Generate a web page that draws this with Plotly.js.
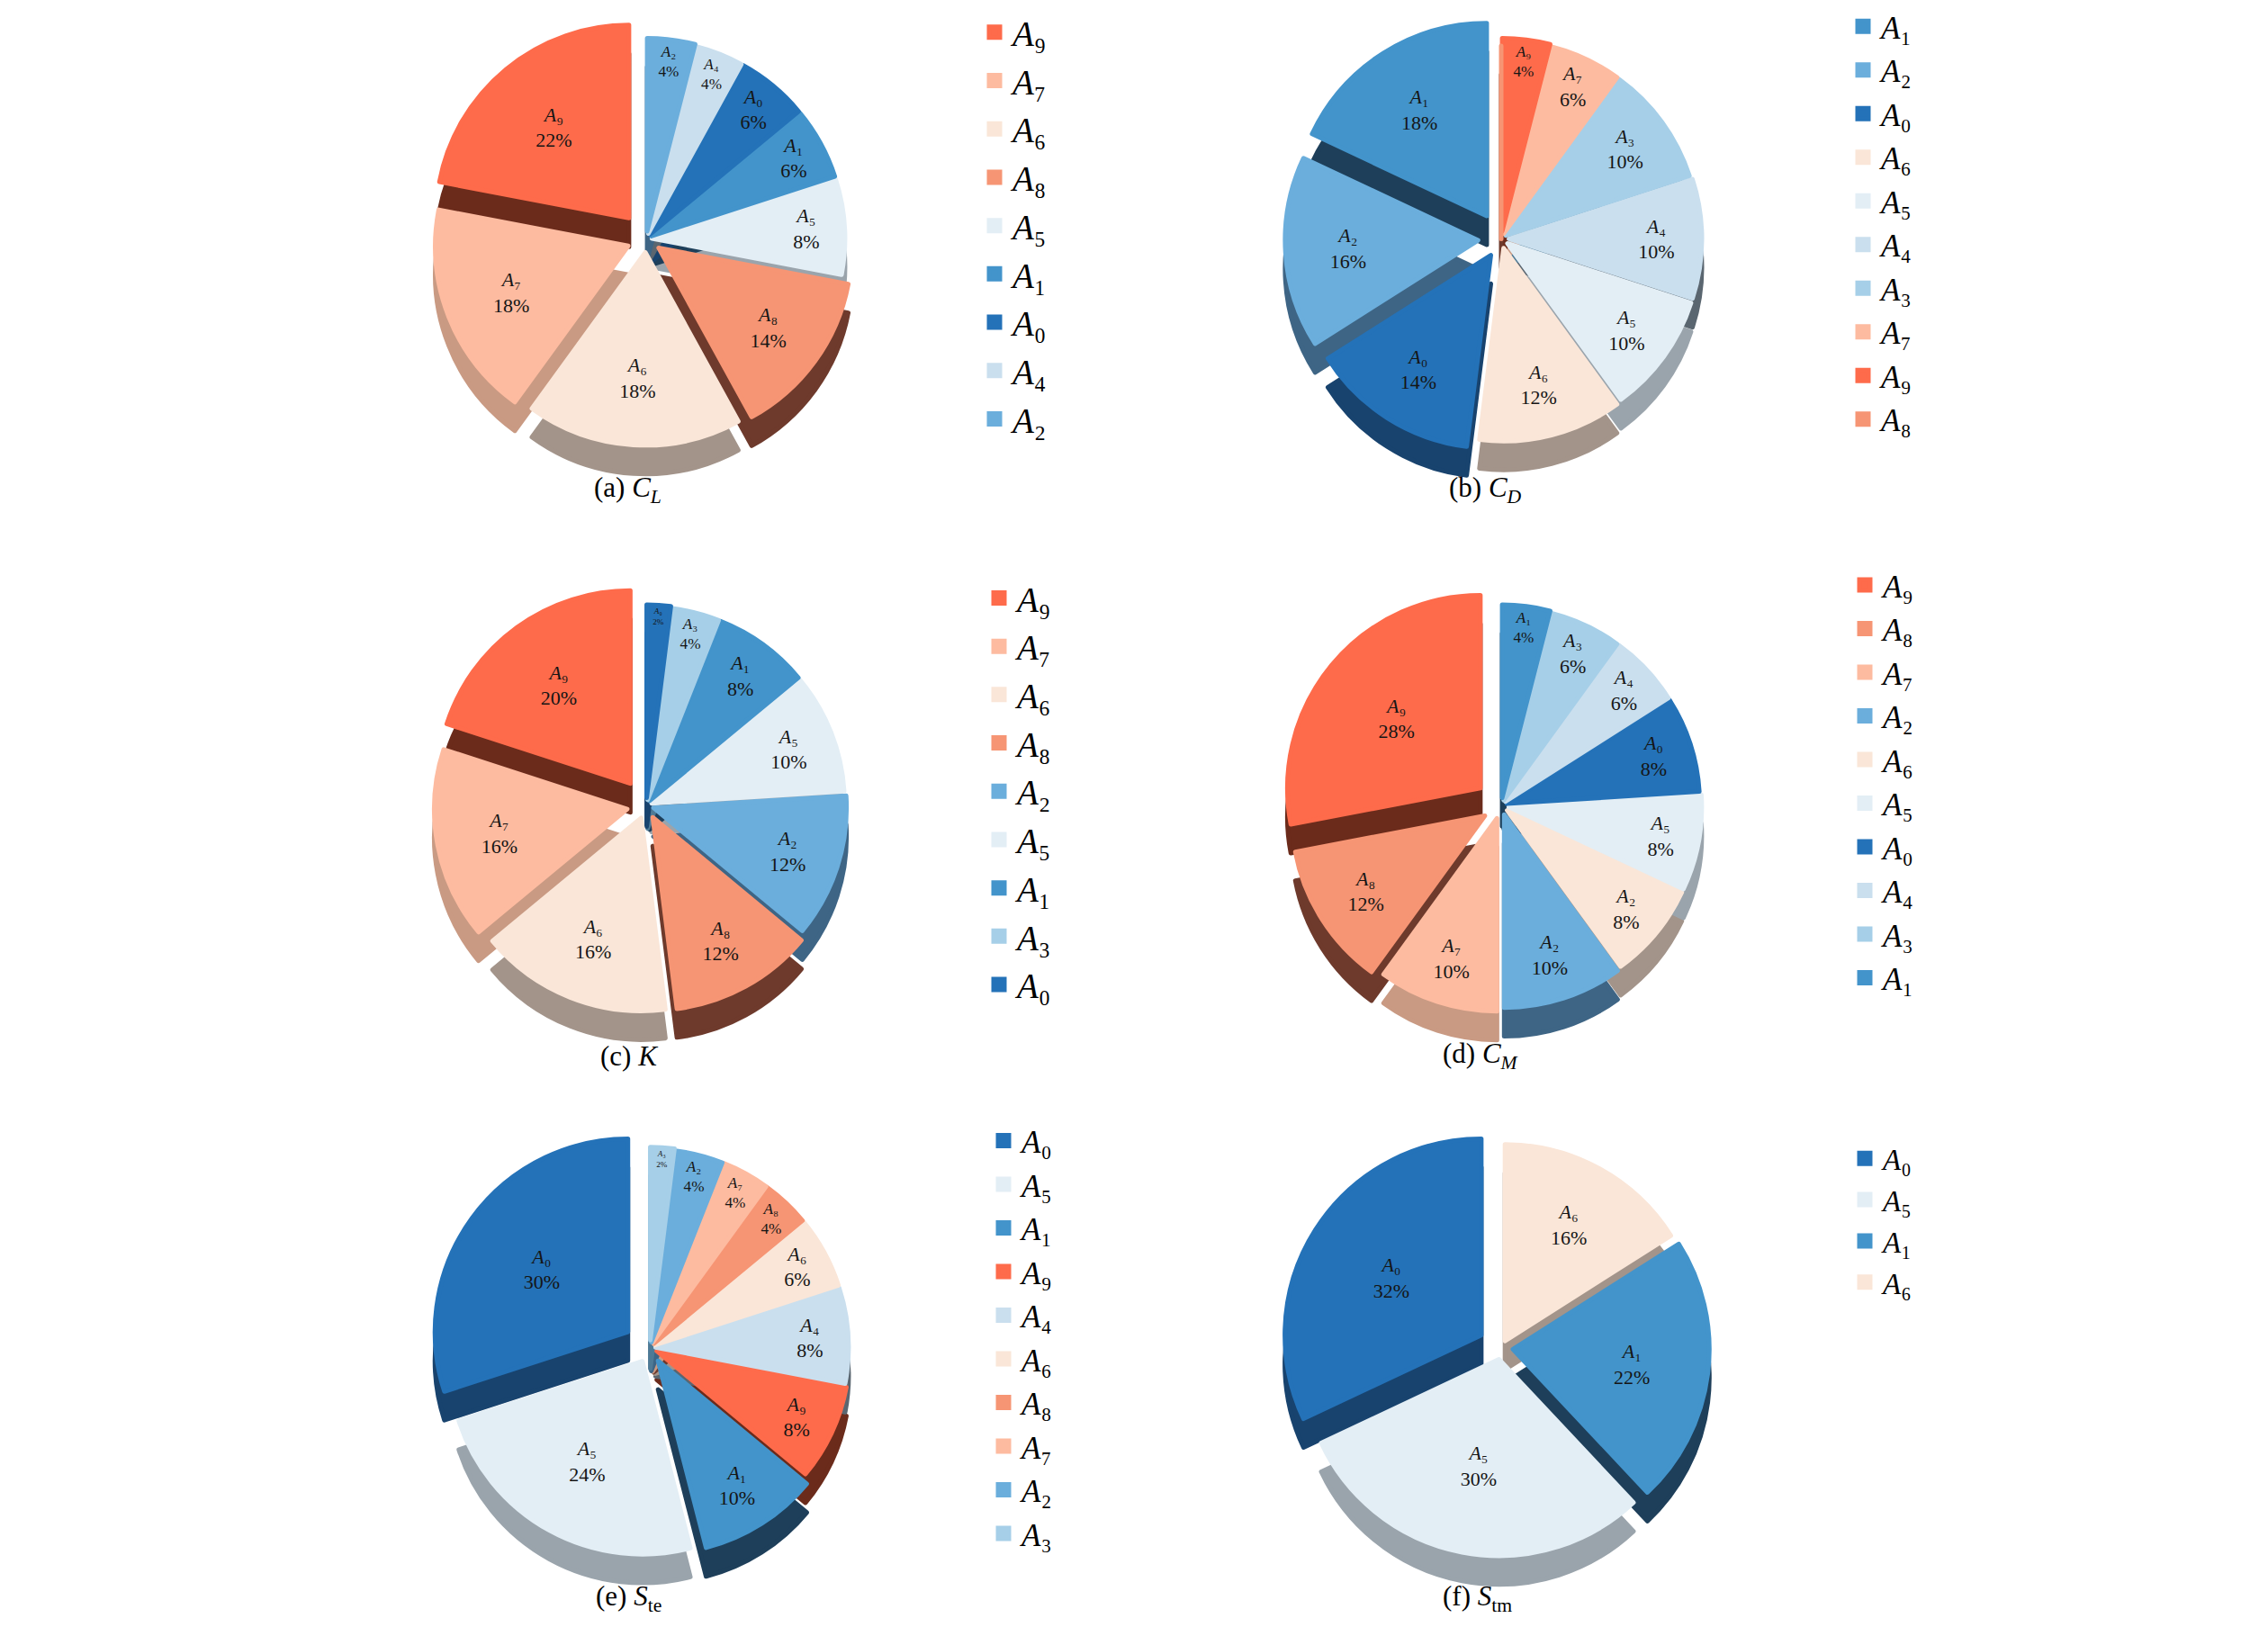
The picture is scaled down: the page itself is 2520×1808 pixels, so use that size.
<!DOCTYPE html>
<html>
<head>
<meta charset="utf-8">
<script src="https://cdn.plot.ly/plotly-3.0.1.min.js"></script>
<style>html,body{margin:0;padding:0;background:#fff;}#chart{width:2520px;height:1808px;}</style>
</head>
<body>
<div id="chart"></div>
<script>
// ---------------- DATA ----------------
const labelsA = ['A9','A7','A6','A8','A5','A1','A0','A4','A2'];
const valuesA = [22, 18, 18, 14, 8, 6, 6, 4, 4];

const labelsB = ['A1','A2','A0','A6','A5','A4','A3','A7','A9','A8'];
const valuesB = [18, 16, 14, 12, 10, 10, 10, 6, 4, 0];

const labelsC = ['A9','A7','A6','A8','A2','A5','A1','A3','A0'];
const valuesC = [20, 16, 16, 12, 12, 10, 8, 4, 2];

const labelsD = ['A9','A8','A7','A2','A6','A5','A0','A4','A3','A1'];
const valuesD = [28, 12, 10, 10, 8, 8, 8, 6, 6, 4];
const sliceTextD = ['A9','A8','A7','A2','A2','A5','A0','A4','A3','A1'];

const labelsE = ['A0','A5','A1','A9','A4','A6','A8','A7','A2','A3'];
const valuesE = [30, 24, 10, 8, 8, 6, 4, 4, 4, 2];

const labelsF = ['A0','A5','A1','A6'];
const valuesF = [32, 30, 22, 16];

const captions = [
  '(a) <i>C</i><sub><i>L</i></sub>',
  '(b) <i>C</i><sub><i>D</i></sub>',
  '(c) <i>K</i>',
  '(d) <i>C</i><sub><i>M</i></sub>',
  '(e) <i>S</i><sub>te</sub>',
  '(f) <i>S</i><sub>tm</sub>'
];

// ---------------- STYLES ----------------
const topColor = {
  A0:'#2472B8', A1:'#4394CB', A2:'#6BAEDC', A3:'#A6CFE8', A4:'#CADFEE',
  A5:'#E3EEF5', A6:'#FAE6D8', A7:'#FDBBA0', A8:'#F69574', A9:'#FE6B4B'
};
const sideColor = {
  A0:'#18436E', A1:'#1E3F5A', A2:'#3E6585', A3:'#4E7A96', A4:'#5A6670',
  A5:'#9AA4AC', A6:'#A3948A', A7:'#C99A83', A8:'#6E3A2C', A9:'#6B2B1B'
};

const W = 2520, H = 1808;
const FONT = 'Liberation Serif, Times New Roman, serif';
const SHADOW = 32;     // px offset of the pie "thickness"
const RAD = 245;       // half-size of each pie domain, px
const EDGE = 5;        // slice outline in its own colour (also enlarges legend swatches)

const panels = [
  {labels:labelsA, values:valuesA, text:labelsA, cx:718,  cy:262,
   pull:[.14,.10,.07,.08,.03,.03,.03,.03,.04], legend:'legend',
   lx:1085, ly:0, lsize:39, capx:697, capy:541},
  {labels:labelsB, values:valuesB, text:labelsB, cx:1668, cy:262,
   pull:[.14,.12,.10,.05,.04,.04,.03,.03,.04,0], legend:'legend2',
   lx:2050, ly:-4, lsize:35, capx:1650, capy:541},
  {labels:labelsC, values:valuesC, text:labelsC, cx:718,  cy:893,
   pull:[.14,.10,.07,.07,.04,.03,.03,.03,.04], legend:'legend3',
   lx:1090, ly:630, lsize:39, capx:699, capy:1172},
  {labels:labelsD, values:valuesD, text:sliceTextD, cx:1668, cy:893,
   pull:[.14,.10,.07,.05,.04,.04,.03,.03,.03,.04], legend:'legend4',
   lx:2052, ly:618, lsize:35, capx:1645, capy:1172},
  {labels:labelsE, values:valuesE, text:labelsE, cx:722,  cy:1497,
   pull:[.14,.08,.08,.04,.03,.03,.03,.03,.03,.04], legend:'legend5',
   lx:1095, ly:1237, lsize:35, capx:698, capy:1776},
  {labels:labelsF, values:valuesF, text:labelsF, cx:1668, cy:1497,
   pull:[.12,.06,.06,.04], legend:'legend6',
   lx:2052, ly:1258, lsize:33, capx:1641, capy:1776}
];

// 'A9' -> italic A with a subscript digit (Unicode subscript)
const SUBDIGITS = ['\u2080','\u2081','\u2082','\u2083','\u2084','\u2085','\u2086','\u2087','\u2088','\u2089'];
function fmt(name){
  return '<i>' + name.charAt(0) + '</i>' + name.slice(1).split('').map(d => SUBDIGITS[+d]).join('');
}

const data = [];
const layout = {
  width: W, height: H,
  margin: {l:0, r:0, t:0, b:0},
  paper_bgcolor: '#ffffff',
  showlegend: true,
  annotations: []
};

panels.forEach((p, i) => {
  const x0 = (p.cx - RAD) / W, x1 = (p.cx + RAD) / W;
  const yTop = 1 - (p.cy - RAD) / H, yBot = 1 - (p.cy + RAD) / H;
  const sTop = 1 - (p.cy - RAD + SHADOW) / H, sBot = 1 - (p.cy + RAD + SHADOW) / H;
  const labels = p.labels.map(fmt);
  const total = p.values.reduce((s, v) => s + v, 0);
  // first slice runs counterclockwise from 12 o'clock
  const rot = -360 * p.values[0] / total;
  const group = 'panel' + i;
  const tops = p.labels.map(l => topColor[l]);
  const sides = p.labels.map(l => sideColor[l]);

  // side / thickness of the pie (drawn underneath)
  data.push({
    type: 'pie', sort: false, direction: 'counterclockwise', rotation: rot,
    labels: labels, values: p.values, pull: p.pull,
    domain: {x:[x0, x1], y:[sBot, sTop]},
    marker: {colors: sides, line:{width:EDGE, color: sides}},
    textinfo: 'none', hoverinfo: 'skip', showlegend: false,
    legend: p.legend, legendgroup: group + 's'
  });
  // top face
  data.push({
    type: 'pie', sort: false, direction: 'counterclockwise', rotation: rot,
    labels: labels, values: p.values, pull: p.pull,
    text: p.text.map(fmt),
    texttemplate: p.values.map(v => v > 0 ? '%{text}<br>%{value}%' : ''),
    textposition: 'inside', insidetextorientation: 'horizontal',
    insidetextfont: {family: FONT, size: 22, color: '#151515'},
    domain: {x:[x0, x1], y:[yBot, yTop]},
    marker: {colors: tops, line:{width:EDGE, color: tops}},
    hoverinfo: 'label+value', showlegend: true,
    legend: p.legend, legendgroup: group
  });

  layout[p.legend] = {
    x: p.lx / W, y: 1 - p.ly / H, xanchor: 'left', yanchor: 'top',
    orientation: 'v', traceorder: 'normal',
    bgcolor: 'rgba(0,0,0,0)', borderwidth: 0,
    font: {family: FONT, size: p.lsize, color: '#000'}
  };

  layout.annotations.push({
    xref: 'paper', yref: 'paper', x: p.capx / W, y: 1 - p.capy / H,
    xanchor: 'center', yanchor: 'middle', showarrow: false,
    text: captions[i], font: {family: FONT, size: 31, color: '#000'}
  });
});

Plotly.newPlot('chart', data, layout, {displayModeBar: false, staticPlot: true});
</script>
</body>
</html>
